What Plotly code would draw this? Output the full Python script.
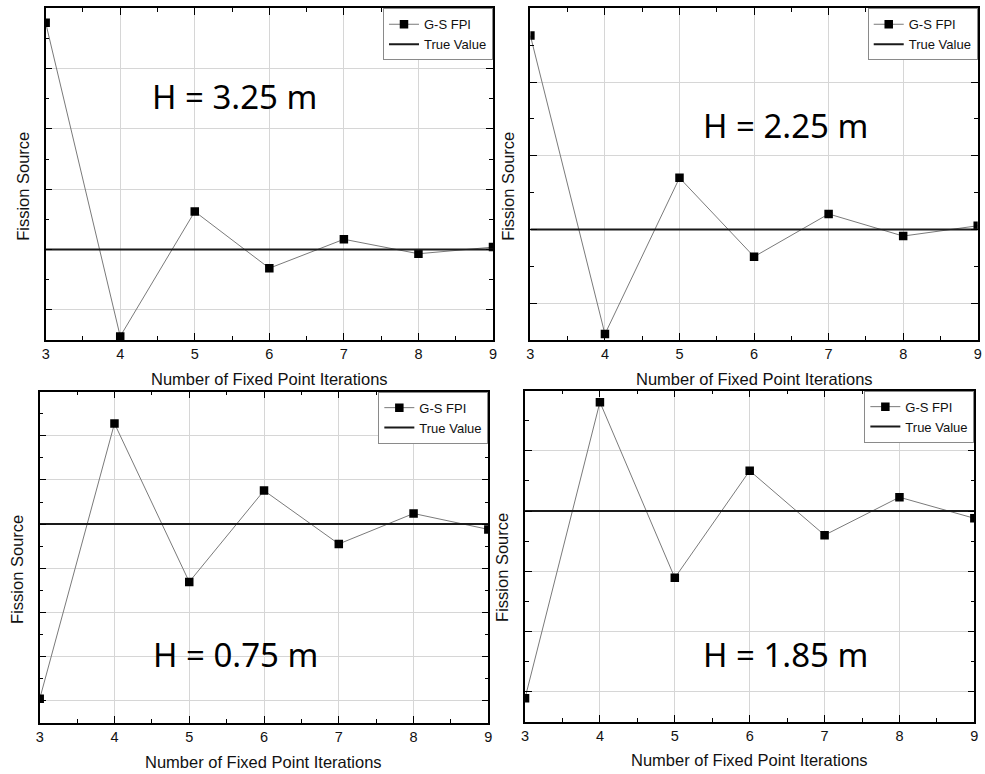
import plotly.graph_objects as go

W, H = 985, 774

# ---------------- data ----------------
iterations = [3, 4, 5, 6, 7, 8, 9]
tick_labels = ["3", "4", "5", "6", "7", "8", "9"]

gs_fpi_h325 = [4.76, -0.44, 1.63, 0.69, 1.17, 0.93, 1.04]
true_h325 = [1.0, 1.0]
gs_fpi_h225 = [3.63, -0.42, 1.70, 0.63, 1.21, 0.91, 1.05]
true_h225 = [1.0, 1.0]
gs_fpi_h075 = [0.04, 6.28, 2.69, 4.76, 3.55, 4.24, 3.88]
true_h075 = [4.0, 4.0]
gs_fpi_h185 = [-0.11, 4.81, 1.89, 3.67, 2.60, 3.23, 2.88]
true_h185 = [3.0, 3.0]

panel_labels = ["H = 3.25 m", "H = 2.25 m", "H = 0.75 m", "H = 1.85 m"]
series_names = ["G-S FPI", "True Value"]
x_title = "Number of Fixed Point Iterations"
y_title = "Fission Source"

# ---------------- layout helpers (pixel -> paper) ----------------
def px_x(x):
    return x / W

def px_y(y):
    return 1 - y / H

panels = [
    dict(x0=42, x1=493, t=8.3, b=340, yr=[-0.5, 5.0], gs=gs_fpi_h325, tv=true_h325,
         lab=(232, 96), xt=(268, 379), yt=(19, 186)),
    dict(x0=530.7, x1=981.7, t=8.3, b=340, yr=[-0.5, 4.0], gs=gs_fpi_h225, tv=true_h225,
         lab=(788, 125), xt=(757, 379), yt=(508, 186)),
    dict(x0=36, x1=488.3, t=391.7, b=722.7, yr=[-0.5, 7.0], gs=gs_fpi_h075, tv=true_h075,
         lab=(233, 654), xt=(262, 762), yt=(13, 569)),
    dict(x0=525.3, x1=978.3, t=390.7, b=721.7, yr=[-0.5, 5.0], gs=gs_fpi_h185, tv=true_h185,
         lab=(788, 654), xt=(752, 760), yt=(502, 567)),
]

fig = go.Figure()
annotations = []
AX_FONT = "Liberation Sans, Arial, sans-serif"

for i, p in enumerate(panels):
    k = "" if i == 0 else str(i + 1)
    xa, ya = "x" + k, "y" + k
    lg = "legend" + k

    fig.add_trace(go.Scatter(
        x=iterations, y=p["gs"], mode="lines+markers", name=series_names[0],
        xaxis=xa, yaxis=ya, legend=lg,
        line=dict(color="#7a7a7a", width=1),
        marker=dict(symbol="square", size=8.5, color="black"),
    ))
    fig.add_trace(go.Scatter(
        x=[iterations[0], iterations[-1]], y=p["tv"], mode="lines", name=series_names[1],
        xaxis=xa, yaxis=ya, legend=lg,
        line=dict(color="#1a1a1a", width=2),
    ))

    common = dict(
        showline=True, linecolor="black", linewidth=1.5, mirror="allticks",
        ticks="inside", ticklen=7, tickwidth=1.3, tickcolor="black",
        showgrid=True, gridcolor="#d6d6d6", gridwidth=1, zeroline=False,
        minor=dict(ticks="inside", ticklen=4, tickwidth=1.3, tickcolor="black", showgrid=False),
    )
    xaxis = dict(common, domain=[px_x(p["x0"]), px_x(p["x1"])], anchor=ya,
                 range=[3, 9], tickmode="array", tickvals=iterations, ticktext=tick_labels,
                 tickfont=dict(family=AX_FONT, size=14.5, color="#111"))
    xaxis["minor"] = dict(common["minor"], dtick=0.5, tick0=3)
    yaxis = dict(common, domain=[px_y(p["b"]), px_y(p["t"])], anchor=xa,
                 range=p["yr"], dtick=1, tick0=0, showticklabels=False)
    yaxis["minor"] = dict(common["minor"], dtick=0.5, tick0=0)
    fig.update_layout(**{"xaxis" + k: xaxis, "yaxis" + k: yaxis})

    fig.update_layout(**{lg: dict(
        x=px_x(p["x1"]), y=px_y(p["t"]), xanchor="right", yanchor="top",
        bgcolor="white", bordercolor="#8a8a8a", borderwidth=1,
        font=dict(family=AX_FONT, size=13, color="#111"),
        itemwidth=30, tracegroupgap=0,
    )})

    annotations.append(dict(
        text=panel_labels[i], x=px_x(p["lab"][0]), y=px_y(p["lab"][1]),
        xref="paper", yref="paper", xanchor="center", yanchor="middle",
        showarrow=False, font=dict(family="Noto Sans, sans-serif", size=33, color="black"),
    ))
    annotations.append(dict(
        text=x_title, x=px_x(p["xt"][0]), y=px_y(p["xt"][1]),
        xref="paper", yref="paper", xanchor="center", yanchor="middle",
        showarrow=False, font=dict(family=AX_FONT, size=16.5, color="#111"),
    ))
    annotations.append(dict(
        text=y_title, x=px_x(p["yt"][0]), y=px_y(p["yt"][1]), textangle=-90,
        xref="paper", yref="paper", xanchor="center", yanchor="middle",
        showarrow=False, font=dict(family=AX_FONT, size=16.5, color="#111"),
    ))

fig.update_layout(
    width=W, height=H, margin=dict(l=0, r=0, t=0, b=0),
    paper_bgcolor="white", plot_bgcolor="white",
    annotations=annotations, showlegend=True,
)

fig.write_html("out.html")
